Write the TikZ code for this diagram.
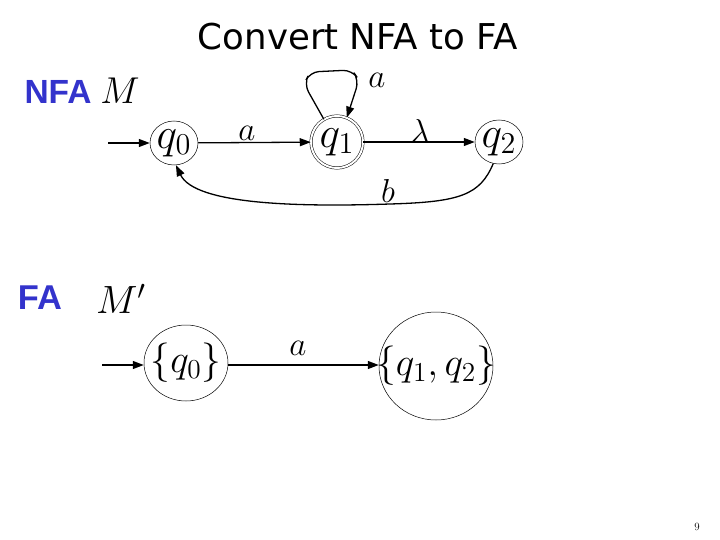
\documentclass[tikz,border=0pt]{standalone}
\usepackage{fontspec}
\usepackage{graphicx}
\usetikzlibrary{arrows.meta,shapes.geometric}
\newfontfamily\labelsans{Liberation Sans}
\newfontfamily\titlefont{DejaVu Sans}
\definecolor{fablue}{RGB}{51,51,204}
\newcommand\stlabel[1]{\scalebox{2.1}{$#1$}}
\newcommand\edlabel[1]{\scalebox{1.6}{$#1$}}
\tikzset{
  state/.style={ellipse, draw, line width=0.5pt, inner sep=0pt, font=\fontsize{20}{20}\selectfont},
  edge/.style={-{Triangle[length=11pt,width=8pt]}, line width=1.3pt},
  lbl/.style={font=\fontsize{20}{20}\selectfont, inner sep=0pt},
  heading/.style={font=\labelsans\bfseries\fontsize{30}{30}\selectfont, text=fablue, inner sep=0pt},
}
\begin{document}
\begin{tikzpicture}[x=1pt,y=-1pt]
\useasboundingbox (0,0) rectangle (720,540);
% title
\node[inner sep=0pt] (title) at (358,37) {\resizebox{320pt}{!}{\titlefont Convert NFA to FA}};
% NFA part
\node[heading] (nfa) at (58,92) {\resizebox{67pt}{!}{NFA}};
\node[lbl] (m) at (120,91) {\scalebox{1.8}{$M$}};
\node[state, minimum width=48pt, minimum height=44pt] (q0) at (174,143) {};
\node[state, circle, double, double distance=2pt, minimum size=52pt] (q1) at (337,142) {};
\node[state, minimum width=48pt, minimum height=44pt] (q2) at (499,142) {};
\node[lbl] (q0t) at (q0.center) {\stlabel{q_0}};
\node[lbl] (q1t) at (q1.center) {\stlabel{q_1}};
\node[lbl] (q2t) at (q2.center) {\stlabel{q_2}};
\coordinate (s0) at (108,143);
\draw[edge] (s0) -- (q0);
\draw[edge] (q0) -- (q1);
\draw[edge] (q1) -- (q2);
\draw[edge, rounded corners=9pt] (q1.120) -- (304,84) -- (310,72) -- (352,70) -- (359,80) -- (q1.68);
\draw[edge] (q2.255) .. controls (480,195) and (460,202) .. (390,204) .. controls (300,207) and (195,205) .. (q0.275);
\node[lbl] (la1) at (247,133) {\edlabel{a}};
\node[lbl] (ll) at (420,131) {\edlabel{\lambda}};
\node[lbl] (lb) at (388,191) {\edlabel{b}};
\node[lbl] (la2) at (377,80) {\edlabel{a}};
% FA part
\node[heading] (fa) at (40,298) {\resizebox{44pt}{!}{FA}};
\node[lbl] (mp) at (121,299) {\scalebox{1.9}{$M'$}};
\node[state, minimum width=84pt, minimum height=76pt] (p0) at (186,363) {};
\node[state, minimum width=114pt, minimum height=108pt] (p1) at (436,366) {};
\node[lbl] (p0t) at (p0.center) {\scalebox{1.9}{$\{q_0\}$}};
\node[lbl] (p1t) at (p1.center) {\scalebox{1.9}{$\{q_1,q_2\}$}};
\coordinate (s1) at (102,365);
\draw[edge] (s1) -- (p0.west |- s1);
\draw[edge] (p0.east |- s1) -- (p1.west |- s1);
\node[lbl] (la3) at (298,348) {\edlabel{a}};
% page number
\node[inner sep=0pt, font=\fontsize{11}{11}\selectfont] (pg) at (697,527) {9};
\end{tikzpicture}
\end{document}
